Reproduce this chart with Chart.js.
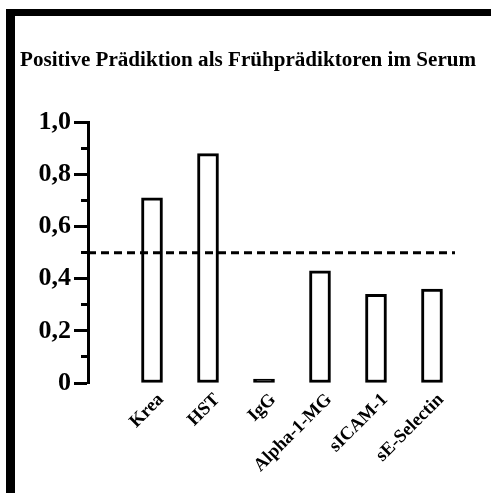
<!DOCTYPE html>
<html>
<head>
<meta charset="utf-8">
<script src="https://cdn.jsdelivr.net/npm/chart.js@4/dist/chart.umd.min.js"></script>
<style>
  html, body { margin: 0; padding: 0; background: #fff; }
  body { width: 491px; height: 493px; overflow: hidden; position: relative; }
  #frame { position: absolute; left: 6px; top: 9px; width: 476px; height: 477px;
           border-top: 7px solid #000; border-left: 9px solid #000; }
  #wrap { position: absolute; left: 0; top: 0; width: 476px; height: 477px; }
</style>
</head>
<body>
<div id="frame"><div id="wrap"><canvas id="c"></canvas></div></div>
<script>
const title = 'Positive Prädiktion als Frühprädiktoren im Serum';
const categories = ['Krea', 'HST', 'IgG', 'Alpha-1-MG', 'sICAM-1', 'sE-Selectin'];
const values = [0.71, 0.88, 0, 0.43, 0.34, 0.36];
const yTickLabels = ['0', '0,2', '0,4', '0,6', '0,8', '1,0'];
const threshold = 0.5;

const FONT = "'Liberation Serif', 'Times New Roman', serif";

const thresholdLine = {
  id: 'thresholdLine',
  afterDatasetsDraw(chart) {
    const { ctx, chartArea, scales } = chart;
    const y = scales.y.getPixelForValue(threshold);
    ctx.save();
    ctx.strokeStyle = '#000';
    ctx.lineWidth = 3;
    ctx.setLineDash([8, 5]);
    ctx.beginPath();
    ctx.moveTo(chartArea.left, y);
    ctx.lineTo(chartArea.right, y);
    ctx.stroke();
    ctx.restore();
  }
};

new Chart(document.getElementById('c'), {
  type: 'bar',
  data: {
    datasets: [{
      data: values.map((v, i) => ({ x: i, y: v })),
      backgroundColor: c => (c.raw && c.raw.y === 0 ? '#000' : '#fff'),
      borderColor: '#000',
      borderWidth: 3,
      borderSkipped: false,
      barThickness: 21,
      minBarLength: 4
    }]
  },
  options: {
    responsive: true,
    maintainAspectRatio: false,
    animation: false,
    layout: { padding: { left: 5, right: 0, top: 0, bottom: 0 } },
    plugins: {
      legend: { display: false },
      tooltip: { enabled: false },
      title: {
        display: true,
        text: title,
        align: 'start',
        color: '#000',
        font: { family: FONT, size: 21.1, weight: 'bold' },
        padding: { top: 32, bottom: 49 }
      }
    },
    scales: {
      x: {
        type: 'linear',
        offset: false,
        min: -1.143,
        max: 5.411,
        afterBuildTicks: s => { s.ticks = categories.map((_, i) => ({ value: i })); },
        afterFit: s => { s.height = 110; },
        border: { display: false },
        grid: { display: false, drawTicks: false },
        ticks: {
          autoSkip: false,
          minRotation: 45,
          maxRotation: 45,
          padding: 6,
          labelOffset: 9,
          color: '#000',
          font: { family: FONT, size: 18.5, weight: 'bold' },
          callback: v => categories[v] ?? ''
        }
      },
      y: {
        min: 0,
        max: 1,
        afterFit: s => { s.width = 68; },
        border: { display: true, color: '#000', width: 3 },
        grid: {
          drawOnChartArea: false,
          drawTicks: true,
          tickLength: 14,
          tickWidth: 3,
          tickColor: '#000',
          tickBorderDash: c => (c.index % 2 ? [0, 7, 7] : [])
        },
        ticks: {
          stepSize: 0.1,
          autoSkip: false,
          padding: 3,
          color: '#000',
          font: { family: FONT, size: 26, weight: 'bold' },
          callback: (v, i) => (i % 2 === 0 ? yTickLabels[i / 2] : '')
        }
      },
      yRight: {
        position: 'right',
        afterFit: s => { s.width = 36; },
        border: { display: false },
        grid: { display: false, drawTicks: false },
        ticks: { display: false }
      }
    }
  },
  plugins: [thresholdLine]
});
</script>
</body>
</html>
